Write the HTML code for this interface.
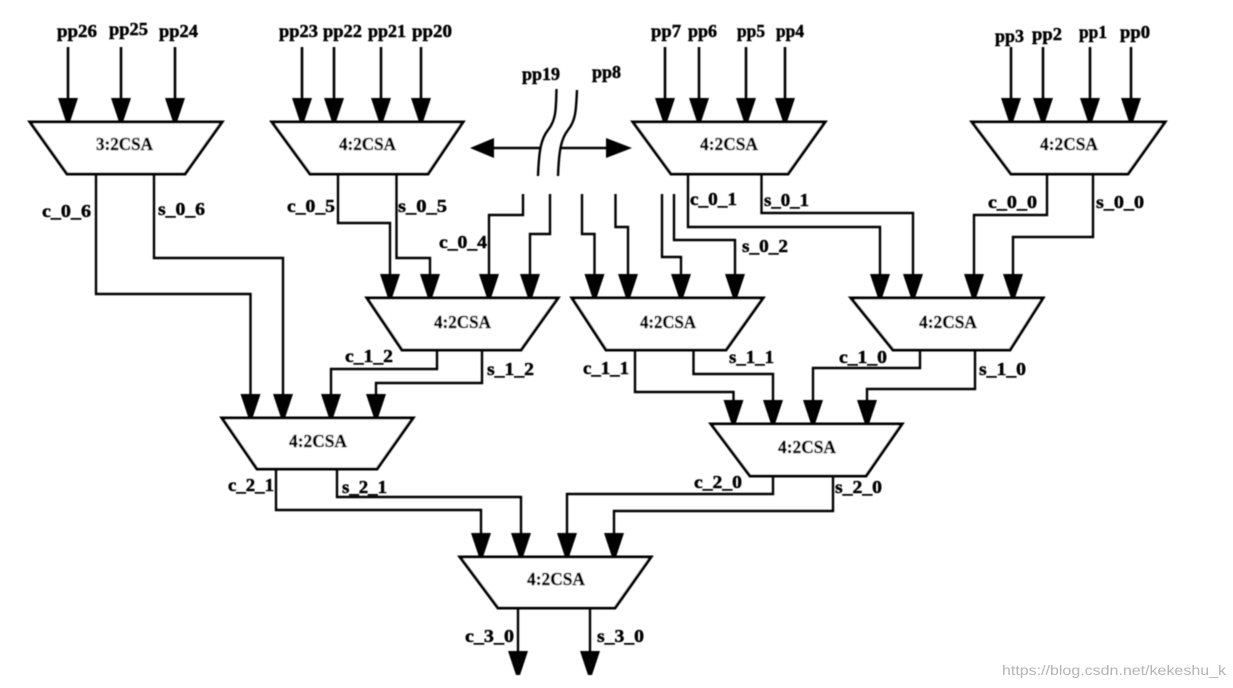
<!DOCTYPE html>
<html>
<head>
<meta charset="utf-8">
<style>
html,body{margin:0;padding:0;background:#fff;width:1233px;height:688px;overflow:hidden}
svg{display:block;position:absolute;left:0;top:0}
.g{filter:url(#b)}
.w{fill:none;stroke:#000;stroke-width:2.4;stroke-linejoin:miter}
.i{fill:none;stroke:#000;stroke-width:2.6}
.t{fill:#fff;stroke:#000;stroke-width:3;stroke-linejoin:miter}
text{font-family:"Liberation Serif",serif;font-weight:bold;font-size:17.5px;fill:#000;stroke:#000;stroke-width:.45}
.m{fill:#b4b4b4;stroke:none;font-family:"Liberation Sans",sans-serif;font-weight:normal;font-size:13.5px}
</style>
</head>
<body>
<svg width="1233" height="688" viewBox="0 0 1233 688" xmlns="http://www.w3.org/2000/svg">
<defs>
<filter id="b" x="-2%" y="-2%" width="104%" height="104%"><feGaussianBlur stdDeviation="0.5"/></filter>
<marker id="a" markerUnits="userSpaceOnUse" markerWidth="30" markerHeight="30" refX="24" refY="10" orient="auto">
<polygon points="0,0 24,8 24,12 0,20" fill="#000"/>
</marker>
</defs>
<g class="g">
<!-- input arrows -->
<g class="i">
<polyline points="68,47 68,122" marker-end="url(#a)"/>
<polyline points="121,47 121,122" marker-end="url(#a)"/>
<polyline points="175,47 175,122" marker-end="url(#a)"/>
<polyline points="302,47 302,122" marker-end="url(#a)"/>
<polyline points="334,47 334,122" marker-end="url(#a)"/>
<polyline points="381,47 381,122" marker-end="url(#a)"/>
<polyline points="421,47 421,122" marker-end="url(#a)"/>
<polyline points="665,47 665,122" marker-end="url(#a)"/>
<polyline points="699,47 699,122" marker-end="url(#a)"/>
<polyline points="746,47 746,122" marker-end="url(#a)"/>
<polyline points="785,47 785,122" marker-end="url(#a)"/>
<polyline points="1011,47 1011,122" marker-end="url(#a)"/>
<polyline points="1043,47 1043,122" marker-end="url(#a)"/>
<polyline points="1090,47 1090,122" marker-end="url(#a)"/>
<polyline points="1131,47 1131,122" marker-end="url(#a)"/>
</g>
<!-- connectors -->
<g class="w">
<polyline points="96,174 96,294 250.5,294 250.5,418" marker-end="url(#a)"/>
<polyline points="154,174 154,258 283,258 283,418" marker-end="url(#a)"/>
<polyline points="338,174 338,223 390,223 390,298" marker-end="url(#a)"/>
<polyline points="396.5,174 396.5,258 430,258 430,298" marker-end="url(#a)"/>
<polyline points="523,194 523,215 489,215 489,298" marker-end="url(#a)"/>
<polyline points="550,194 550,234 530,234 530,298" marker-end="url(#a)"/>
<polyline points="582,194 582,234 594.5,234 594.5,298" marker-end="url(#a)"/>
<polyline points="615.5,194 615.5,227 628,227 628,298" marker-end="url(#a)"/>
<polyline points="662,194 662,257 681,257 681,298" marker-end="url(#a)"/>
<polyline points="674,194 674,240 735,240 735,298" marker-end="url(#a)"/>
<polyline points="688,174 688,227 880,227 880,298" marker-end="url(#a)"/>
<polyline points="761.5,174 761.5,213 913,213 913,298" marker-end="url(#a)"/>
<polyline points="1047,174 1047,215 974,215 974,298" marker-end="url(#a)"/>
<polyline points="1093,174 1093,237 1013,237 1013,298" marker-end="url(#a)"/>
<polyline points="437,350 437,369 331,369 331,418" marker-end="url(#a)"/>
<polyline points="482,350 482,383 376,383 376,418" marker-end="url(#a)"/>
<polyline points="635,350 635,392 733.5,392 733.5,424" marker-end="url(#a)"/>
<polyline points="693.5,350 693.5,374 773,374 773,424" marker-end="url(#a)"/>
<polyline points="920,350 920,368 813,368 813,424" marker-end="url(#a)"/>
<polyline points="975,350 975,389 867,389 867,424" marker-end="url(#a)"/>
<polyline points="276,469 276,510 481,510 481,557" marker-end="url(#a)"/>
<polyline points="337,469 337,497 521,497 521,557" marker-end="url(#a)"/>
<polyline points="773,476 773,494 567,494 567,557" marker-end="url(#a)"/>
<polyline points="833,476 833,511 614,511 614,557" marker-end="url(#a)"/>
<polyline points="518,608 518,675" marker-end="url(#a)"/>
<polyline points="590,608 590,675" marker-end="url(#a)"/>
<!-- break marks -->
<path d="M556.5,89 C556,110 556,120 548,130 C541,139 539,150 538,176"/>
<path d="M577,90 C576,110 576,120 568,130 C561,139 559,150 558,176"/>
<line x1="494" y1="148" x2="541" y2="148"/>
<line x1="561" y1="148" x2="606" y2="148"/>
</g>
<polygon points="470,148 494,138 494,158" fill="#000"/>
<polygon points="632,148 606,138 606,158" fill="#000"/>
<!-- trapezoids -->
<polygon class="t" points="30,122 222,122 185,174 67,174"/>
<polygon class="t" points="272,122 463,122 428,174 310,174"/>
<polygon class="t" points="633,122 825,122 788,174 671,174"/>
<polygon class="t" points="972,122 1165,122 1128,174 1011,174"/>
<polygon class="t" points="367,298 558,298 521,350 402,350"/>
<polygon class="t" points="572,298 763,298 726,350 606,350"/>
<polygon class="t" points="851,298 1043,298 1010,350 893,350"/>
<polygon class="t" points="222,418 413,418 377,469 257,469"/>
<polygon class="t" points="711,424 902,424 866,476 750,476"/>
<polygon class="t" points="460,557 651,557 615,608 498,608"/>
<!-- labels -->
<text x="57" y="37" textLength="40" lengthAdjust="spacingAndGlyphs">pp26</text>
<text x="109" y="35" textLength="39" lengthAdjust="spacingAndGlyphs">pp25</text>
<text x="159" y="37" textLength="39" lengthAdjust="spacingAndGlyphs">pp24</text>
<text x="279" y="37" textLength="39" lengthAdjust="spacingAndGlyphs">pp23</text>
<text x="323" y="37" textLength="39" lengthAdjust="spacingAndGlyphs">pp22</text>
<text x="368" y="37" textLength="38" lengthAdjust="spacingAndGlyphs">pp21</text>
<text x="412" y="37" textLength="40" lengthAdjust="spacingAndGlyphs">pp20</text>
<text x="522" y="80" textLength="38" lengthAdjust="spacingAndGlyphs">pp19</text>
<text x="592" y="78" textLength="29" lengthAdjust="spacingAndGlyphs">pp8</text>
<text x="651" y="37" textLength="30" lengthAdjust="spacingAndGlyphs">pp7</text>
<text x="688" y="37" textLength="29" lengthAdjust="spacingAndGlyphs">pp6</text>
<text x="737" y="37" textLength="28" lengthAdjust="spacingAndGlyphs">pp5</text>
<text x="776" y="37" textLength="28" lengthAdjust="spacingAndGlyphs">pp4</text>
<text x="995" y="42" textLength="29" lengthAdjust="spacingAndGlyphs">pp3</text>
<text x="1032" y="40" textLength="30" lengthAdjust="spacingAndGlyphs">pp2</text>
<text x="1079" y="38" textLength="28" lengthAdjust="spacingAndGlyphs">pp1</text>
<text x="1120" y="38" textLength="30" lengthAdjust="spacingAndGlyphs">pp0</text>

<text x="96" y="150" textLength="57" lengthAdjust="spacingAndGlyphs">3:2CSA</text>
<text x="339" y="150" textLength="57" lengthAdjust="spacingAndGlyphs">4:2CSA</text>
<text x="700" y="150" textLength="58" lengthAdjust="spacingAndGlyphs">4:2CSA</text>
<text x="1040" y="150" textLength="58" lengthAdjust="spacingAndGlyphs">4:2CSA</text>
<text x="434" y="328" textLength="57" lengthAdjust="spacingAndGlyphs">4:2CSA</text>
<text x="640" y="328" textLength="56" lengthAdjust="spacingAndGlyphs">4:2CSA</text>
<text x="919" y="328" textLength="58" lengthAdjust="spacingAndGlyphs">4:2CSA</text>
<text x="289" y="447" textLength="58" lengthAdjust="spacingAndGlyphs">4:2CSA</text>
<text x="778" y="453" textLength="58" lengthAdjust="spacingAndGlyphs">4:2CSA</text>
<text x="527" y="585" textLength="58" lengthAdjust="spacingAndGlyphs">4:2CSA</text>

<text x="42" y="217" textLength="49" lengthAdjust="spacingAndGlyphs">c_0_6</text>
<text x="158" y="215" textLength="47" lengthAdjust="spacingAndGlyphs">s_0_6</text>
<text x="287" y="212" textLength="48" lengthAdjust="spacingAndGlyphs">c_0_5</text>
<text x="398" y="212" textLength="49" lengthAdjust="spacingAndGlyphs">s_0_5</text>
<text x="439" y="248" textLength="48" lengthAdjust="spacingAndGlyphs">c_0_4</text>
<text x="742" y="252" textLength="46" lengthAdjust="spacingAndGlyphs">s_0_2</text>
<text x="690" y="205" textLength="47" lengthAdjust="spacingAndGlyphs">c_0_1</text>
<text x="764" y="206" textLength="45" lengthAdjust="spacingAndGlyphs">s_0_1</text>
<text x="988" y="208" textLength="49" lengthAdjust="spacingAndGlyphs">c_0_0</text>
<text x="1096" y="208" textLength="48" lengthAdjust="spacingAndGlyphs">s_0_0</text>
<text x="345" y="362" textLength="48" lengthAdjust="spacingAndGlyphs">c_1_2</text>
<text x="487" y="375" textLength="47" lengthAdjust="spacingAndGlyphs">s_1_2</text>
<text x="583" y="374" textLength="46" lengthAdjust="spacingAndGlyphs">c_1_1</text>
<text x="729" y="363" textLength="45" lengthAdjust="spacingAndGlyphs">s_1_1</text>
<text x="839" y="363" textLength="48" lengthAdjust="spacingAndGlyphs">c_1_0</text>
<text x="979" y="375" textLength="47" lengthAdjust="spacingAndGlyphs">s_1_0</text>
<text x="228" y="491" textLength="46" lengthAdjust="spacingAndGlyphs">c_2_1</text>
<text x="342" y="493" textLength="45" lengthAdjust="spacingAndGlyphs">s_2_1</text>
<text x="694" y="488" textLength="48" lengthAdjust="spacingAndGlyphs">c_2_0</text>
<text x="835" y="493" textLength="47" lengthAdjust="spacingAndGlyphs">s_2_0</text>
<text x="465" y="642" textLength="49" lengthAdjust="spacingAndGlyphs">c_3_0</text>
<text x="597" y="642" textLength="47" lengthAdjust="spacingAndGlyphs">s_3_0</text>
</g>
<text class="m" x="1002" y="675" textLength="224" lengthAdjust="spacingAndGlyphs">https://blog.csdn.net/kekeshu_k</text>
</svg>
</body>
</html>
